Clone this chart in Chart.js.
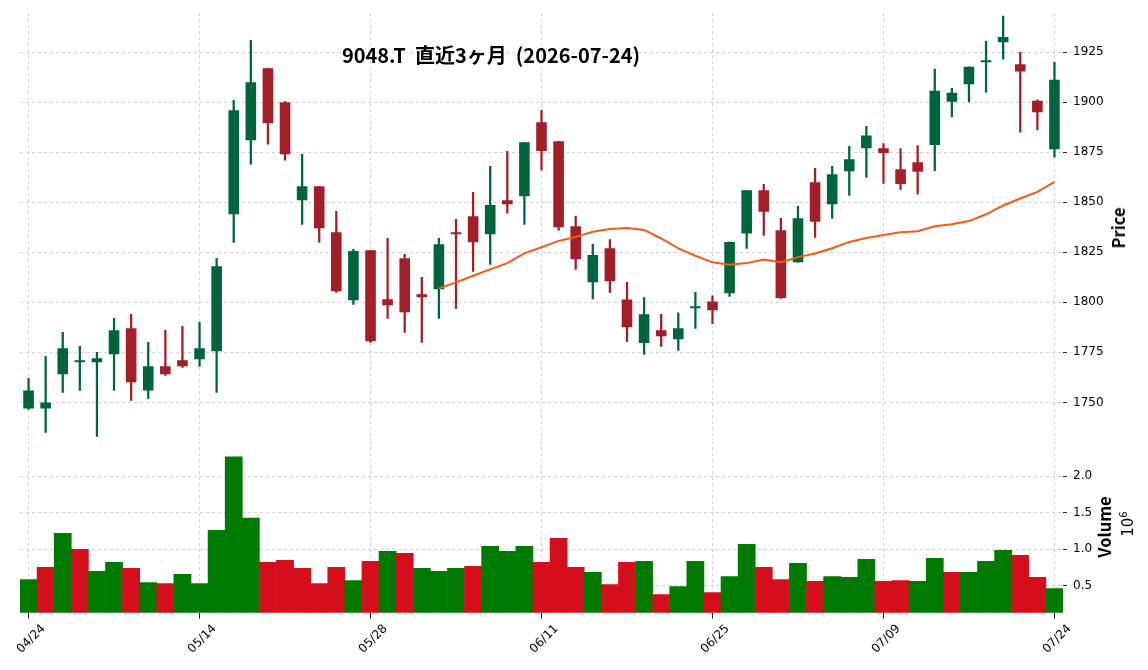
<!DOCTYPE html>
<html>
<head>
<meta charset="utf-8">
<script src="https://cdn.jsdelivr.net/npm/chart.js@4.4.1/dist/chart.umd.min.js"></script>
<style>
html, body { margin: 0; padding: 0; background: #fff; }
#wrap { position: relative; width: 1148px; height: 670px; overflow: hidden; }
canvas { position: absolute; left: 0; }
#priceChart { top: 0; }
#volumeChart { top: 428px; }
.lbl { position: absolute; white-space: pre; color: #000; line-height: 1; }
#title { left: 491px; top: 40px; transform: translateX(-50%); font: bold 20px 'Noto Sans CJK JP'; }
.rot { transform: translate(-50%, -50%) rotate(-90deg); }
#priceLbl { left: 1118px; top: 228px; font: bold 16.5px 'Noto Sans CJK JP'; }
#volLbl { left: 1104px; top: 527px; font: bold 16.5px 'Noto Sans CJK JP'; }
#volExp { left: 1127px; top: 524px; font: 15px 'DejaVu Sans'; }
#volExp sup { font-size: 10px; }
</style>
</head>
<body>
<div id="wrap">
  <canvas id="priceChart" width="1148" height="453"></canvas>
  <canvas id="volumeChart" width="1148" height="242"></canvas>
  <div class="lbl" id="title">9048.T  直近3ヶ月  (2026-07-24)</div>
  <div class="lbl rot" id="priceLbl">Price</div>
  <div class="lbl rot" id="volLbl">Volume</div>
  <div class="lbl rot" id="volExp">10<sup>6</sup></div>
</div>
<script>
// 取引日
const dates = [
    '2026-04-24', '2026-04-27', '2026-04-28', '2026-04-30', '2026-05-01', '2026-05-07', '2026-05-08', '2026-05-11', '2026-05-12', '2026-05-13',
    '2026-05-14', '2026-05-15', '2026-05-18', '2026-05-19', '2026-05-20', '2026-05-21', '2026-05-22', '2026-05-25', '2026-05-26', '2026-05-27',
    '2026-05-28', '2026-05-29', '2026-06-01', '2026-06-02', '2026-06-03', '2026-06-04', '2026-06-05', '2026-06-08', '2026-06-09', '2026-06-10',
    '2026-06-11', '2026-06-12', '2026-06-15', '2026-06-16', '2026-06-17', '2026-06-18', '2026-06-19', '2026-06-22', '2026-06-23', '2026-06-24',
    '2026-06-25', '2026-06-26', '2026-06-29', '2026-06-30', '2026-07-01', '2026-07-02', '2026-07-03', '2026-07-06', '2026-07-07', '2026-07-08',
    '2026-07-09', '2026-07-10', '2026-07-13', '2026-07-14', '2026-07-15', '2026-07-16', '2026-07-17', '2026-07-21', '2026-07-22', '2026-07-23',
    '2026-07-24'
];

// 四本値
const opens = [
    1747, 1747, 1764, 1770, 1770, 1774, 1787, 1756, 1768, 1771,
    1771.5, 1775.5, 1844, 1881, 1917, 1900, 1851, 1858, 1835, 1801,
    1826, 1801.5, 1822, 1804, 1806.5, 1835, 1843, 1834, 1851, 1853,
    1890, 1880.5, 1838, 1810, 1827, 1801.4, 1779.7, 1786, 1781.6, 1797,
    1800.4, 1804.5, 1834.4, 1856, 1836, 1820, 1860, 1849, 1865.5, 1877,
    1877, 1866.5, 1870, 1878.6, 1900.3, 1909, 1920, 1930, 1919, 1900.7,
    1876.5
];
const highs = [
    1762, 1773, 1785, 1778, 1775, 1792, 1794, 1780, 1786, 1788,
    1790, 1822, 1901, 1931, 1917, 1900.3, 1874, 1858, 1845.5, 1826.5,
    1826, 1832, 1824, 1812.5, 1832, 1841.5, 1855, 1868, 1875.5, 1880,
    1896, 1880.5, 1843, 1829, 1831.4, 1810, 1802.4, 1794, 1794.7, 1805,
    1803.2, 1830.2, 1856, 1859, 1842, 1848, 1867, 1868, 1878, 1888,
    1879.3, 1876.8, 1878.3, 1916.6, 1907, 1917.7, 1930.5, 1943, 1925, 1901.2,
    1920
];
const lows = [
    1746.5, 1735, 1755, 1756, 1733, 1756, 1751, 1752, 1763.5, 1767.5,
    1768, 1755, 1830, 1869, 1879, 1871, 1839, 1830, 1805, 1799,
    1780, 1792, 1785, 1780, 1792, 1797, 1815.5, 1819, 1844.5, 1839,
    1866, 1836, 1816.5, 1801.7, 1805, 1780.3, 1774, 1778, 1776, 1787,
    1789.3, 1803, 1827, 1833.5, 1802, 1820, 1832.5, 1842, 1853.4, 1862.4,
    1859.4, 1856.4, 1854, 1865.8, 1892.7, 1900.2, 1905, 1921.5, 1885, 1886.2,
    1872.5
];
const closes = [
    1756, 1750, 1777, 1771, 1772, 1786, 1760, 1768, 1764, 1768,
    1777, 1818, 1896, 1910, 1889.5, 1874, 1858, 1837, 1805.5, 1825.7,
    1780.5, 1798.5, 1795, 1802.5, 1829, 1834, 1830, 1848.6, 1849, 1880,
    1875.6, 1837.5, 1821.5, 1823.7, 1810.5, 1787.6, 1794, 1783, 1787, 1798,
    1796, 1830.2, 1856, 1845.3, 1802.2, 1842, 1840.3, 1864, 1871.5, 1883.4,
    1874.6, 1859.2, 1865.2, 1905.8, 1904.8, 1917.7, 1921, 1932.6, 1915.4, 1895,
    1911.2
];

// 25日移動平均 (25本目から)
const maStart = 24;
const ma25Values = [
    1807, 1810, 1813.3, 1816.5, 1819.6, 1824.5, 1827.5, 1830.7, 1832.7, 1835.3,
    1836.7, 1837.2, 1836.2, 1831.9, 1827, 1823.3, 1820, 1818.8, 1819.6, 1821.4,
    1820.1, 1822.6, 1824.4, 1827, 1830.2, 1832.2, 1833.7, 1835, 1835.5, 1838,
    1839, 1840.6, 1844, 1848.4, 1851.9, 1855.2, 1860.2
];

// 出来高
const volumes = [
    587000, 752000, 1220000, 1000000, 697000, 821000, 739000, 546000, 532000, 656000,
    532000, 1261000, 2266000, 1427000, 821000, 849000, 739000, 532000, 752000, 573000,
    835000, 972000, 945000, 739000, 697000, 739000, 766000, 1041000, 972000, 1041000,
    821000, 1151000, 752000, 683000, 518000, 821000, 835000, 381000, 491000, 835000,
    408000, 628000, 1069000, 752000, 587000, 807000, 560000, 628000, 615000, 862000,
    560000, 573000, 560000, 876000, 683000, 683000, 835000, 986000, 917000, 615000,
    463000
];

// 目盛り
const priceTicks = [1750, 1775, 1800, 1825, 1850, 1875, 1900, 1925];
const volumeTicks = [500000, 1000000, 1500000, 2000000];
const dateTickIdx = [0, 10, 20, 30, 40, 50, 60];

const labels = dates.map(d => d.slice(5).replace('-', '/'));
const candleColors = opens.map((o, i) => closes[i] >= o ? '#00643c' : '#a11f29');
const volumeColors = closes.map((c, i) => (i === 0 || c >= closes[i - 1]) ? '#007a00' : '#d40f1b');
const ma25 = labels.map((_, i) => i < maStart ? null : ma25Values[i - maStart]);

const gridColor = '#c8c8c8';
const tickFont = { family: 'DejaVu Sans', size: 12 };

// 価格チャート
new Chart(document.getElementById('priceChart'), {
    type: 'bar',
    data: {
        labels: labels,
        datasets: [
            {
                data: lows.map((l, i) => [l, highs[i]]),
                backgroundColor: candleColors,
                barThickness: 1.6,
                grouped: false,
                order: 2
            },
            {
                data: opens.map((o, i) => [o, closes[i]]),
                backgroundColor: candleColors,
                barPercentage: 0.62,
                categoryPercentage: 1,
                minBarLength: 2,
                grouped: false,
                order: 1
            },
            {
                type: 'line',
                data: ma25,
                borderColor: '#f25c19',
                borderWidth: 2,
                pointRadius: 0,
                tension: 0,
                order: 0
            }
        ]
    },
    options: {
        responsive: false,
        animation: false,
        layout: { padding: { left: 20, top: 11, right: 0, bottom: 0 } },
        plugins: { legend: { display: false }, tooltip: { enabled: false } },
        scales: {
            x: {
                offset: true,
                afterBuildTicks: s => { s.ticks = dateTickIdx.map(v => ({ value: v })); },
                afterFit: s => { s.height = 0; },
                ticks: { display: false, autoSkip: false },
                grid: { offset: false, color: gridColor, lineWidth: 0.8, drawTicks: false },
                border: { display: false, dash: [3, 3] }
            },
            y: {
                position: 'right',
                min: 1731.3,
                max: 1944.5,
                afterBuildTicks: s => { s.ticks = priceTicks.map(v => ({ value: v })); },
                afterFit: s => { s.width = 85; },
                ticks: { font: tickFont, color: '#000', padding: 6, callback: v => v.toFixed(0) },
                grid: { color: gridColor, lineWidth: 0.8, tickLength: 4, tickColor: '#222', tickWidth: 1, tickBorderDash: [] },
                border: { display: false, dash: [3, 3] }
            }
        }
    }
});

// 出来高チャート
new Chart(document.getElementById('volumeChart'), {
    type: 'bar',
    data: {
        labels: labels,
        datasets: [{
            data: volumes,
            backgroundColor: volumeColors,
            barPercentage: 1,
            categoryPercentage: 1
        }]
    },
    options: {
        responsive: false,
        animation: false,
        layout: { padding: { left: 20, top: 0, right: 0, bottom: 0 } },
        plugins: { legend: { display: false }, tooltip: { enabled: false } },
        scales: {
            x: {
                offset: true,
                afterBuildTicks: s => { s.ticks = dateTickIdx.map(v => ({ value: v })); },
                afterFit: s => { s.height = 57.3; },
                ticks: { font: tickFont, color: '#000', autoSkip: false, minRotation: 45, maxRotation: 45, labelOffset: 15, padding: 3 },
                grid: { offset: false, color: gridColor, lineWidth: 0.8, tickLength: 6, tickColor: '#222', tickWidth: 1, tickBorderDash: [] },
                border: { display: false, dash: [3, 3] }
            },
            y: {
                position: 'right',
                min: 132000,
                max: 2480000,
                afterBuildTicks: s => { s.ticks = volumeTicks.map(v => ({ value: v })); },
                afterFit: s => { s.width = 85; },
                ticks: { font: tickFont, color: '#000', padding: 6, callback: v => (v / 1e6).toFixed(1) },
                grid: { color: gridColor, lineWidth: 0.8, tickLength: 4, tickColor: '#222', tickWidth: 1, tickBorderDash: [] },
                border: { display: false, dash: [3, 3] }
            }
        }
    }
});
</script>
</body>
</html>
